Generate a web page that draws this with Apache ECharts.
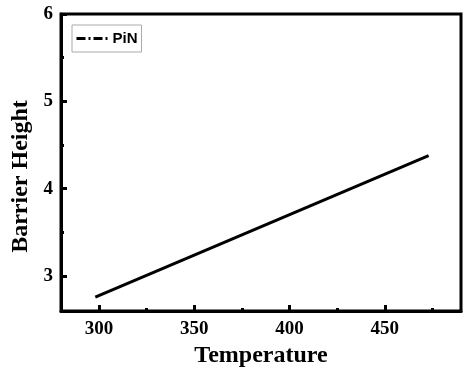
<!DOCTYPE html>
<html>
<head>
<meta charset="utf-8">
<script src="https://cdn.jsdelivr.net/npm/echarts@6/dist/echarts.min.js"></script>
<style>
  html, body { margin: 0; padding: 0; background: #fff; }
  #chart { width: 464px; height: 376px; }
</style>
</head>
<body>
<div id="chart"></div>
<script>
// values
const temperature = [298, 473];
const barrierHeight = [2.76, 4.38];
const xMajorTicks = [300, 350, 400, 450];
const xMinorTicks = [325, 375, 425, 475];
const yMajorTicks = [3, 4, 5, 6];
const yMinorTicks = [3.5, 4.5, 5.5];

const serif = '"Liberation Serif", "Times New Roman", serif';
const chart = echarts.init(document.getElementById('chart'));

const xRange = { min: 280, max: 490 };
const yRange = { min: 2.6, max: 6 };

const option = {
  animation: false,
  backgroundColor: '#fff',
  grid: {
    left: 61, top: 14, right: 3, bottom: 65,
    show: true,
    borderColor: '#000',
    borderWidth: 3
  },
  legend: {
    data: ['PiN'],
    left: 72,
    top: 25,
    padding: [6, 4, 6, 3],
    itemWidth: 34,
    itemHeight: 12,
    itemGap: 4,
    borderColor: '#aaa',
    borderWidth: 1,
    borderRadius: 0,
    itemStyle: { opacity: 0 },
    lineStyle: { width: 3 },
    textStyle: {
      fontFamily: '"Liberation Sans", Arial, sans-serif',
      fontWeight: 'bold',
      fontSize: 15,
      color: '#000',
      padding: [0, 0, 0, -3]
    }
  },
  xAxis: [{
    type: 'value',
    ...xRange,
    name: 'Temperature',
    nameLocation: 'middle',
    nameGap: 30,
    nameTextStyle: { fontFamily: serif, fontWeight: 'bold', fontSize: 24, color: '#000' },
    axisLine: { show: true, lineStyle: { color: '#000', width: 3 } },
    axisTick: { inside: true, length: 6, lineStyle: { color: '#000', width: 3 }, customValues: xMajorTicks },
    axisLabel: {
      margin: 9, customValues: xMajorTicks,
      fontFamily: serif, fontWeight: 'bold', fontSize: 19, color: '#000'
    },
    splitLine: { show: false }
  }, {
    type: 'value',
    ...xRange,
    position: 'bottom',
    axisLine: { show: false },
    axisTick: { inside: true, length: 3, lineStyle: { color: '#000', width: 3 }, customValues: xMinorTicks },
    axisLabel: { show: false },
    splitLine: { show: false }
  }],
  yAxis: [{
    type: 'value',
    ...yRange,
    name: 'Barrier Height',
    nameLocation: 'middle',
    nameGap: 25,
    nameTextStyle: {
      fontFamily: serif, fontWeight: 'bold', fontSize: 24, color: '#000',
      padding: [0, 28, 0, 0]
    },
    axisLine: { show: true, lineStyle: { color: '#000', width: 3 } },
    axisTick: { inside: true, length: 6, lineStyle: { color: '#000', width: 3 }, customValues: yMajorTicks },
    axisLabel: {
      margin: 8, customValues: yMajorTicks,
      fontFamily: serif, fontWeight: 'bold', fontSize: 19, color: '#000'
    },
    splitLine: { show: false }
  }, {
    type: 'value',
    ...yRange,
    position: 'left',
    axisLine: { show: false },
    axisTick: { inside: true, length: 3, lineStyle: { color: '#000', width: 3 }, customValues: yMinorTicks },
    axisLabel: { show: false },
    splitLine: { show: false }
  }],
  series: [{
    // only here so the legend shows the dash-dot icon
    name: 'PiN',
    type: 'line',
    data: [],
    symbol: 'none',
    itemStyle: { color: '#000' },
    lineStyle: { color: '#000', width: 3, type: [9, 3, 2, 3] }
  }, {
    name: 'line',
    type: 'line',
    symbol: 'none',
    data: temperature.map((t, i) => [t, barrierHeight[i]]),
    lineStyle: { color: '#000', width: 3 }
  }]
};

chart.setOption(option);
</script>
</body>
</html>
